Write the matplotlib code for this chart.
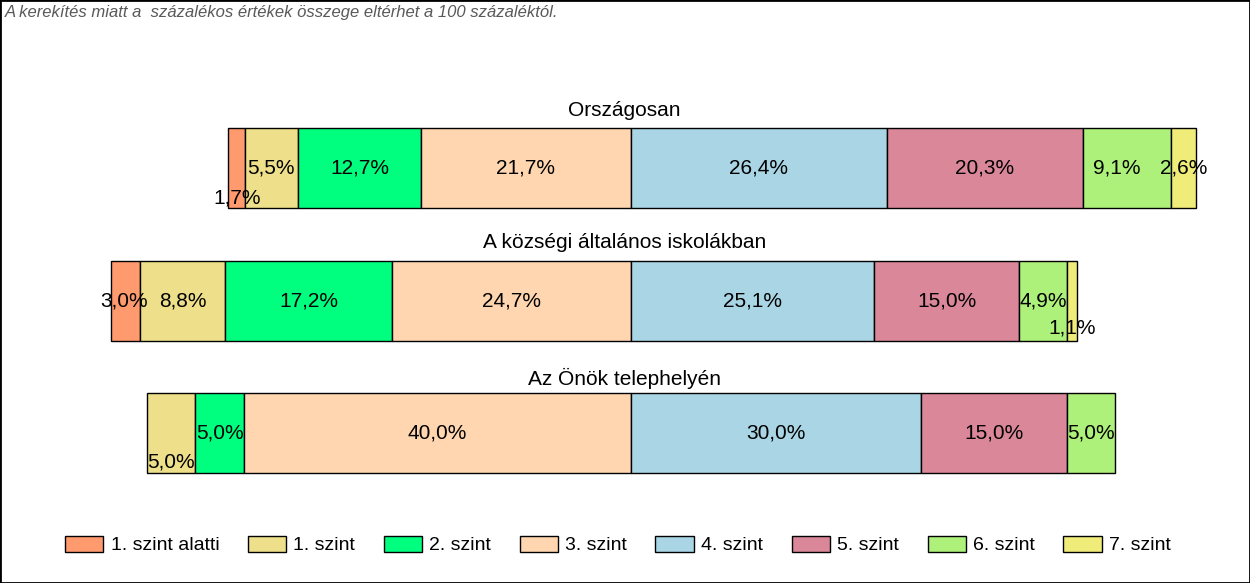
import matplotlib
matplotlib.use("Agg")
import matplotlib.pyplot as plt
from matplotlib.patches import Rectangle, Patch

plt.rcParams["font.family"] = ["Liberation Sans", "DejaVu Sans"]

LEVELS = ["1. szint alatti", "1. szint", "2. szint", "3. szint",
          "4. szint", "5. szint", "6. szint", "7. szint"]
GROUPS = ["Országosan", "A községi általános iskolákban", "Az Önök telephelyén"]
ORSZAGOS = [1.7, 5.5, 12.7, 21.7, 26.4, 20.3, 9.1, 2.6]
KOZSEGI = [3.0, 8.8, 17.2, 24.7, 25.1, 15.0, 4.9, 1.1]
TELEPHELY = [0.0, 5.0, 5.0, 40.0, 30.0, 15.0, 5.0, 0.0]
NOTE = "A kerekítés miatt a  százalékos értékek összege eltérhet a 100 százaléktól."

COLORS = ["#FF9A6E", "#EEE08A", "#00FF7F", "#FFD6B0",
          "#A9D5E5", "#D98799", "#ADF07A", "#F0EC7A"]

# layout (pixel-based vertical axis, % horizontal axis centred on 3|4 split)
W, H = 1250, 583
CENTER_PX = 631
PX_PER_PCT = 9.68
BAR_Y = [168, 301, 433]
TITLE_Y = [110, 243, 378]
BAR_H = 80
N_BELOW = 4  # levels drawn left of the centre line
# label nudges (dx px, dy px) for labels Excel pushed out of the way
NUDGE = {(0, 0): (1, 30), (0, 6): (-10, 0), (1, 0): (-2, 0),
         (1, 7): (0, 27), (2, 1): (0, 29)}

fig = plt.figure(figsize=(W / 100, H / 100), dpi=100)
ax = fig.add_axes([0, 0, 1, 1])
ax.set_xlim(-CENTER_PX / PX_PER_PCT, (W - CENTER_PX) / PX_PER_PCT)
ax.set_ylim(H, 0)
ax.axis("off")

for gi, (name, vals) in enumerate(zip(GROUPS, [ORSZAGOS, KOZSEGI, TELEPHELY])):
    y = BAR_Y[gi]
    left = -sum(vals[:N_BELOW])
    for li, v in enumerate(vals):
        if v > 0:
            ax.barh(y, v, left=left, height=BAR_H, color=COLORS[li],
                    edgecolor="black", linewidth=1.0)
            dx, dy = NUDGE.get((gi, li), (0, 0))
            ax.text(left + v / 2 + dx / PX_PER_PCT, y + dy,
                    f"{v:.1f}%".replace(".", ","), ha="center", va="center",
                    fontsize=15, color="black")
        left += v
    ax.text(-0.7, TITLE_Y[gi], name, ha="center", va="center",
            fontsize=15, color="black")

fig.text(5 / W, 1 - 13 / H, NOTE, ha="left", va="center", fontsize=12,
         style="italic", color="#595959")

handles = [Patch(facecolor=c, edgecolor="black", linewidth=1.0, label=l)
           for c, l in zip(COLORS, LEVELS)]
fig.legend(handles=handles, loc="center", bbox_to_anchor=(618 / W, 1 - 545 / H),
           ncol=8, frameon=False, fontsize=14, handlelength=1.96,
           handleheight=0.88, handletextpad=0.4, columnspacing=1.45,
           borderpad=0, borderaxespad=0)

fig.add_artist(Rectangle((0, 0), 1, 1, transform=fig.transFigure, fill=False,
                         edgecolor="black", linewidth=2))

fig.savefig("out.png", dpi=100)
